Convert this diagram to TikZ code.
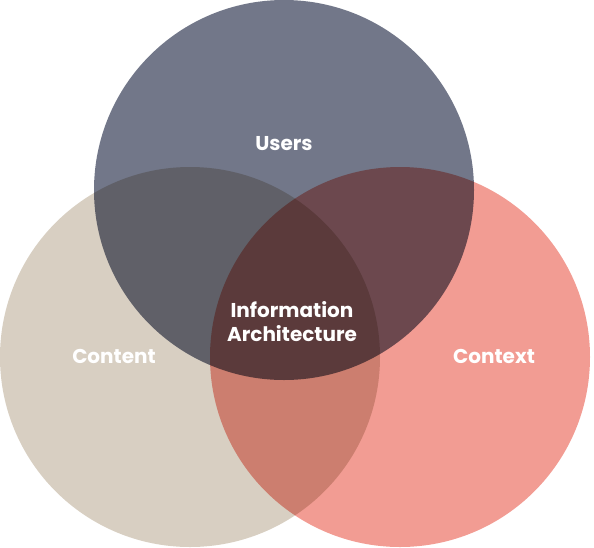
\documentclass[tikz,border=0pt]{standalone}
\usepackage{fontspec}
\setmainfont{Poppins}
\definecolor{usersblue}{HTML}{727789}
\definecolor{contentbeige}{HTML}{D8CFC2}
\definecolor{contextred}{HTML}{F29C93}
\begin{document}
\begin{tikzpicture}[x=1pt,y=-1pt]
	\useasboundingbox (0,0) rectangle (594,547);
	\begin{scope}[blend group=multiply]
		\node[circle,fill=contentbeige,minimum size=380pt,inner sep=0pt] (content) at (190,357) {};
		\node[circle,fill=contextred,minimum size=380pt,inner sep=0pt] (context) at (400,357) {};
		\node[circle,fill=usersblue,minimum size=380pt,inner sep=0pt] (users) at (284,190) {};
	\end{scope}
	\node[text=white,font=\fontsize{20}{24}\selectfont\bfseries] (tusers) at (284,144) {Users};
	\node[text=white,font=\fontsize{20}{24}\selectfont\bfseries] (tcontent) at (114,356) {Content};
	\node[text=white,font=\fontsize{20}{24}\selectfont\bfseries] (tcontext) at (494,356) {Context};
	\node[text=white,font=\fontsize{20}{24}\selectfont\bfseries,align=center] (tia) at (292,322) {Information\\Architecture};
\end{tikzpicture}
\end{document}
